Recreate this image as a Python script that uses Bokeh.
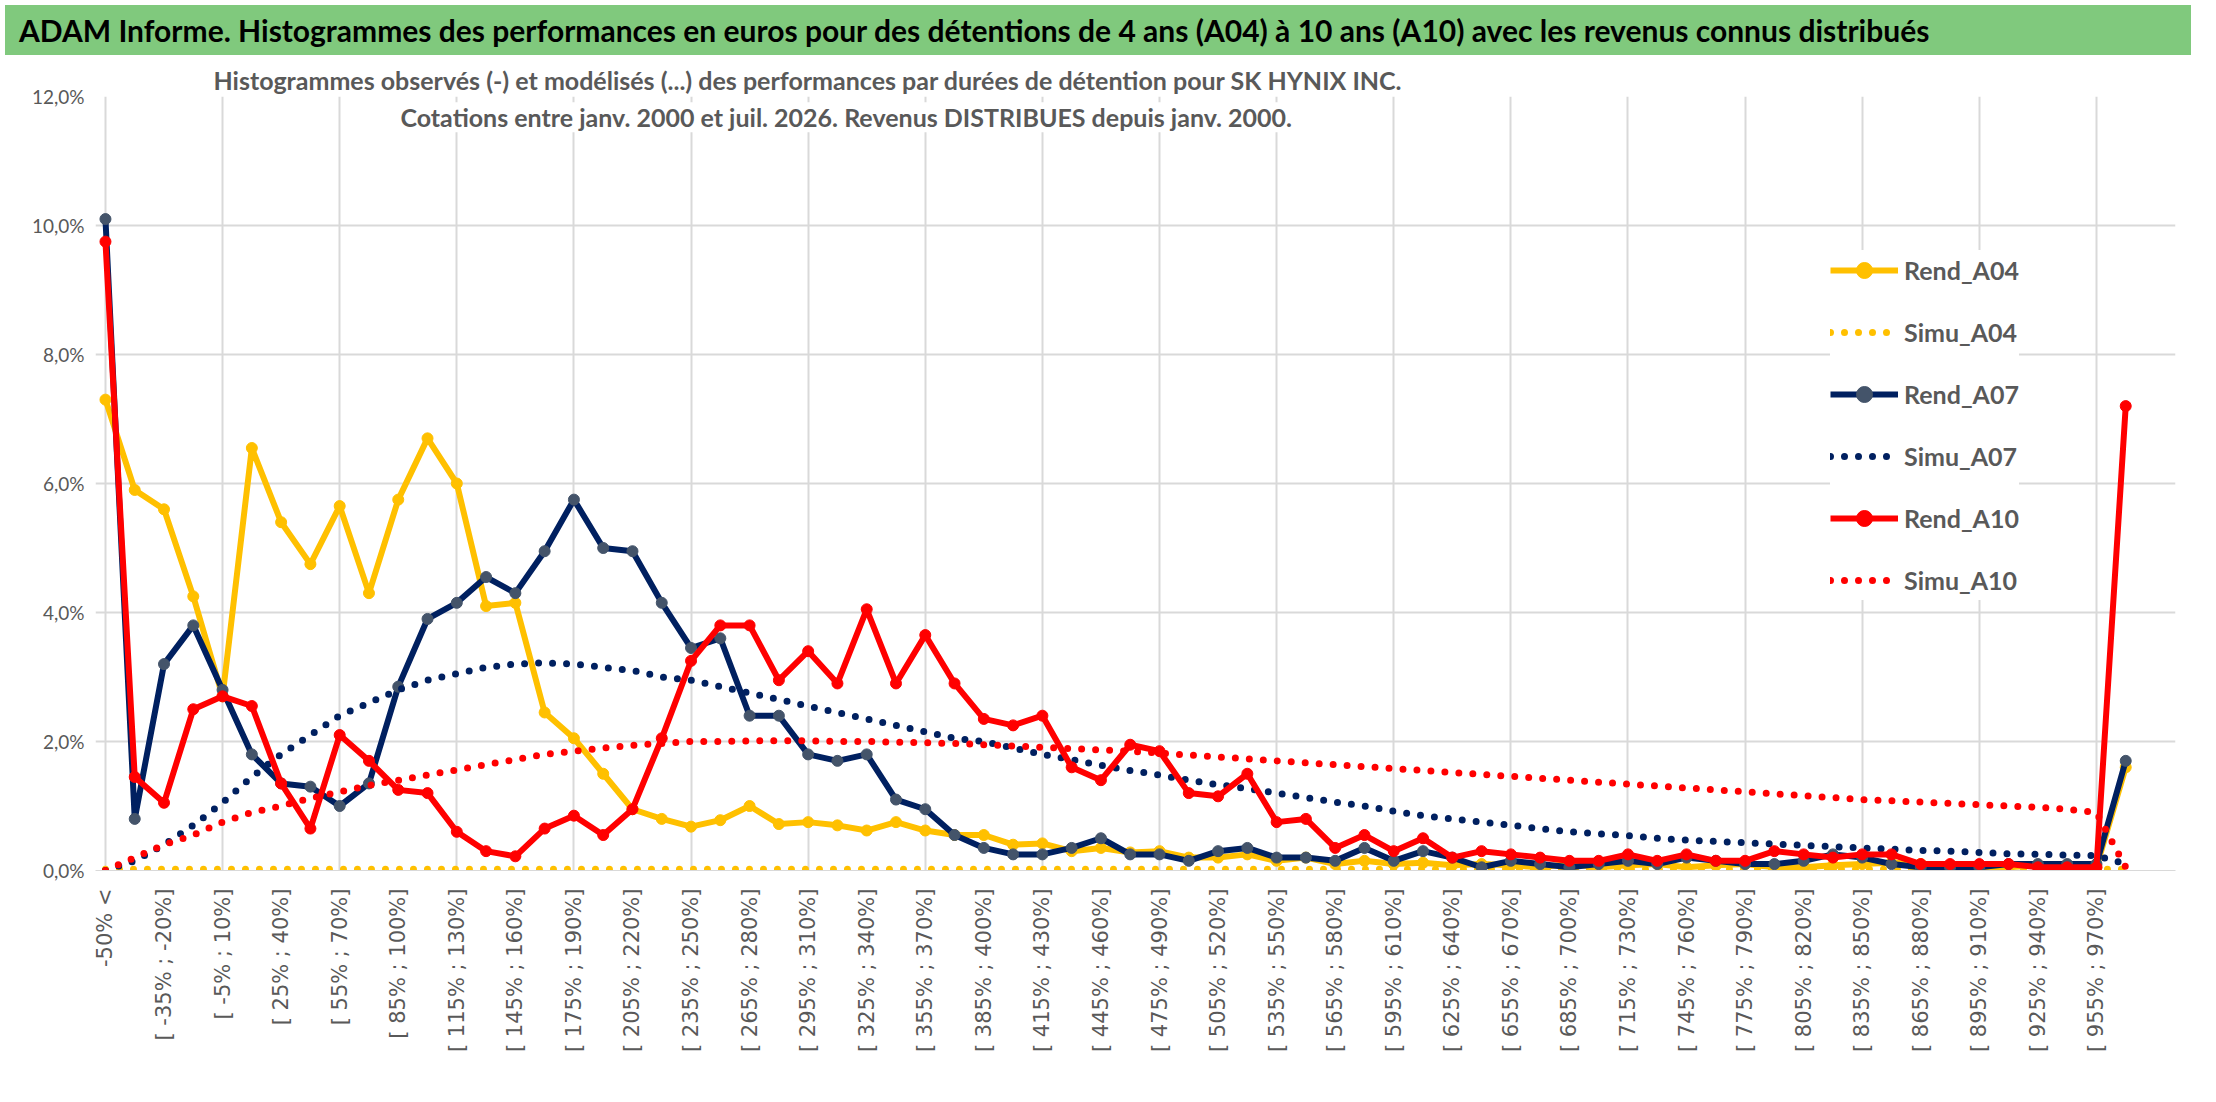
import numpy as np
from bokeh.plotting import figure
from bokeh.models import Div, Label, Legend, LegendItem, FixedTicker, Title
from bokeh.layouts import column
from bokeh.embed import file_html
from bokeh.resources import INLINE

# category labels: "-50% <", then 15% wide classes
categories = ["-50% <"] + ["[ %d%% ; %d%%]" % (-50 + 15 * k, -35 + 15 * k) for k in range(68)] + ["> 970%"]
idx = list(range(len(categories)))

rend_a04 = [7.3, 5.9, 5.6, 4.25, 2.7, 6.55, 5.4, 4.75, 5.65, 4.3,
            5.75, 6.7, 6.0, 4.1, 4.15, 2.45, 2.05, 1.5, 0.95, 0.8,
            0.68, 0.78, 1.0, 0.72, 0.75, 0.7, 0.62, 0.75, 0.62, 0.55,
            0.55, 0.4, 0.42, 0.3, 0.35, 0.28, 0.3, 0.2, 0.2, 0.25,
            0.15, 0.2, 0.1, 0.15, 0.1, 0.12, 0.08, 0.1, 0.08, 0.05,
            0.1, 0.05, 0.08, 0.1, 0.05, 0.08, 0.1, 0.05, 0.05, 0.08,
            0.1, 0.12, 0.1, 0.08, 0.05, 0.05, 0.08, 0.05, 0.05, 1.6]
simu_a04 = [0.02] * 70
rend_a07 = [10.1, 0.8, 3.2, 3.8, 2.8, 1.8, 1.35, 1.3, 1.0, 1.35,
            2.85, 3.9, 4.15, 4.55, 4.3, 4.95, 5.75, 5.0, 4.95, 4.15,
            3.45, 3.6, 2.4, 2.4, 1.8, 1.7, 1.8, 1.1, 0.95, 0.55,
            0.35, 0.25, 0.25, 0.35, 0.5, 0.25, 0.25, 0.15, 0.3, 0.35,
            0.2, 0.2, 0.15, 0.35, 0.15, 0.3, 0.2, 0.05, 0.15, 0.1,
            0.05, 0.1, 0.15, 0.1, 0.2, 0.15, 0.1, 0.1, 0.15, 0.25,
            0.2, 0.1, 0.05, 0.05, 0.05, 0.1, 0.1, 0.1, 0.1, 1.7]
simu_a07 = [0.0, 0.15, 0.4, 0.7, 1.05, 1.45, 1.8, 2.1, 2.4, 2.6,
            2.8, 2.95, 3.05, 3.15, 3.2, 3.22, 3.2, 3.15, 3.1, 3.0,
            2.95, 2.85, 2.75, 2.65, 2.55, 2.45, 2.35, 2.25, 2.15, 2.05,
            2.0, 1.9, 1.8, 1.72, 1.63, 1.55, 1.48, 1.4, 1.33, 1.27,
            1.2, 1.13, 1.06, 1.0, 0.92, 0.85, 0.8, 0.75, 0.7, 0.65,
            0.6, 0.57, 0.54, 0.5, 0.47, 0.45, 0.43, 0.41, 0.39, 0.37,
            0.35, 0.33, 0.31, 0.3, 0.28, 0.26, 0.25, 0.24, 0.23, 0.1]
rend_a10 = [9.75, 1.45, 1.05, 2.5, 2.7, 2.55, 1.35, 0.65, 2.1, 1.7,
            1.25, 1.2, 0.6, 0.3, 0.22, 0.65, 0.85, 0.55, 0.95, 2.05,
            3.25, 3.8, 3.8, 2.95, 3.4, 2.9, 4.05, 2.9, 3.65, 2.9,
            2.35, 2.25, 2.4, 1.6, 1.4, 1.95, 1.85, 1.2, 1.15, 1.5,
            0.75, 0.8, 0.35, 0.55, 0.3, 0.5, 0.2, 0.3, 0.25, 0.2,
            0.15, 0.15, 0.25, 0.15, 0.25, 0.15, 0.15, 0.3, 0.25, 0.2,
            0.25, 0.25, 0.1, 0.1, 0.1, 0.1, 0.05, 0.05, 0.05, 7.2]
simu_a10 = [0.0, 0.2, 0.4, 0.55, 0.75, 0.9, 1.0, 1.12, 1.22, 1.32,
            1.4, 1.48, 1.56, 1.64, 1.72, 1.8, 1.85, 1.9, 1.94, 1.97,
            2.0, 2.0, 2.01, 2.01, 2.01, 2.0, 2.0, 1.99, 1.98, 1.97,
            1.95, 1.93, 1.91, 1.89, 1.87, 1.85, 1.82, 1.79, 1.76, 1.73,
            1.7, 1.67, 1.64, 1.61, 1.58, 1.55, 1.52, 1.49, 1.46, 1.43,
            1.4, 1.37, 1.34, 1.31, 1.28, 1.25, 1.22, 1.19, 1.16, 1.13,
            1.1, 1.08, 1.06, 1.04, 1.02, 1.0, 0.98, 0.95, 0.9, 0.05]

y_ticks = [0, 2, 4, 6, 8, 10, 12]
y_labels = {t: "%d,0%%" % t for t in y_ticks}

YELLOW = "#FFC000"
NAVY = "#002060"
RED = "#FF0000"
GREY = "#595959"
FONT = "Lato"

banner = Div(
    text="ADAM Informe. Histogrammes des performances en euros pour des détentions de 4 ans (A04) à 10 ans (A10) avec les revenus connus distribués",
    width=2200, height=50,
    styles={"background-color": "#80C97D", "font-family": FONT, "font-weight": "bold",
            "font-size": "30px", "color": "black", "line-height": "50px",
            "padding-left": "14px", "width": "2186px", "white-space": "nowrap"})

p = figure(width=2200, height=1040, x_range=(-0.34, 70.7), y_range=(0, 12),
           output_backend="svg", toolbar_location=None,
           min_border_left=95, min_border_right=25, min_border_top=30, min_border_bottom=230)
p.outline_line_color = None
p.background_fill_color = "white"

p.add_layout(Title(text="Histogrammes observés (-) et modélisés (...) des performances par durées de détention pour SK HYNIX INC.",
                   align="left", offset=118, text_font=FONT, text_font_style="bold",
                   text_font_size="25px", text_color=GREY, standoff=4), "above")

p.yaxis.ticker = FixedTicker(ticks=y_ticks)
p.yaxis.major_label_overrides = y_labels
p.yaxis.axis_line_color = None
p.yaxis.major_tick_line_color = None
p.yaxis.minor_tick_line_color = None
p.yaxis.major_label_text_font = FONT
p.yaxis.major_label_text_font_size = "19px"
p.yaxis.major_label_text_color = GREY

p.xaxis.ticker = FixedTicker(ticks=list(range(0, 70, 2)))
p.xaxis.major_label_overrides = {i: categories[i] for i in range(0, 70, 2)}
p.xaxis.major_label_orientation = np.pi / 2
p.xaxis.axis_line_color = "#D9D9D9"
p.xaxis.major_tick_line_color = None
p.xaxis.minor_tick_line_color = None
p.xaxis.major_label_text_font = "DejaVu Sans"
p.xaxis.major_label_text_font_size = "21px"
p.xaxis.major_label_text_color = GREY
p.xaxis.major_label_standoff = 12

p.ygrid.grid_line_color = "#D9D9D9"
p.ygrid.grid_line_width = 2
p.xgrid.ticker = FixedTicker(ticks=list(range(0, 70, 4)))
p.xgrid.grid_line_color = "#D9D9D9"
p.xgrid.grid_line_width = 2

dots = dict(line_dash="0 14", line_cap="round", line_width=7)
r1 = p.line(idx, rend_a04, color=YELLOW, line_width=6)
m1 = p.scatter(idx, rend_a04, color=YELLOW, size=11)
r2 = p.line(idx, simu_a04, color=YELLOW, **dots)
r3 = p.line(idx, rend_a07, color=NAVY, line_width=6)
m3 = p.scatter(idx, rend_a07, color="#44546A", size=11)
r4 = p.line(idx, simu_a07, color=NAVY, **dots)
r5 = p.line(idx, rend_a10, color=RED, line_width=6)
m5 = p.scatter(idx, rend_a10, color=RED, size=11)
r6 = p.line(idx, simu_a10, color=RED, **dots)

legend = Legend(items=[
    LegendItem(label="Rend_A04", renderers=[r1, m1]),
    LegendItem(label="Simu_A04", renderers=[r2]),
    LegendItem(label="Rend_A07", renderers=[r3, m3]),
    LegendItem(label="Simu_A07", renderers=[r4]),
    LegendItem(label="Rend_A10", renderers=[r5, m5]),
    LegendItem(label="Simu_A10", renderers=[r6]),
], location=(1735, 270))
legend.border_line_color = None
legend.background_fill_color = "white"
legend.background_fill_alpha = 1
legend.label_text_font = FONT
legend.label_text_font_style = "bold"
legend.label_text_font_size = "25px"
legend.label_text_color = GREY
legend.glyph_width = 68
legend.glyph_height = 40
legend.spacing = 22
legend.label_standoff = 6
legend.padding = 14
p.add_layout(legend)

p.add_layout(Label(x=25.3, y=11.68, text="Cotations entre janv. 2000 et juil. 2026. Revenus DISTRIBUES depuis janv. 2000.",
                   text_align="center", text_baseline="middle",
                   text_font=FONT, text_font_style="bold", text_font_size="25px",
                   text_color=GREY, background_fill_color="white"))

layout = column(banner, p, spacing=0)
open("out.html", "w").write(file_html(layout, INLINE))
